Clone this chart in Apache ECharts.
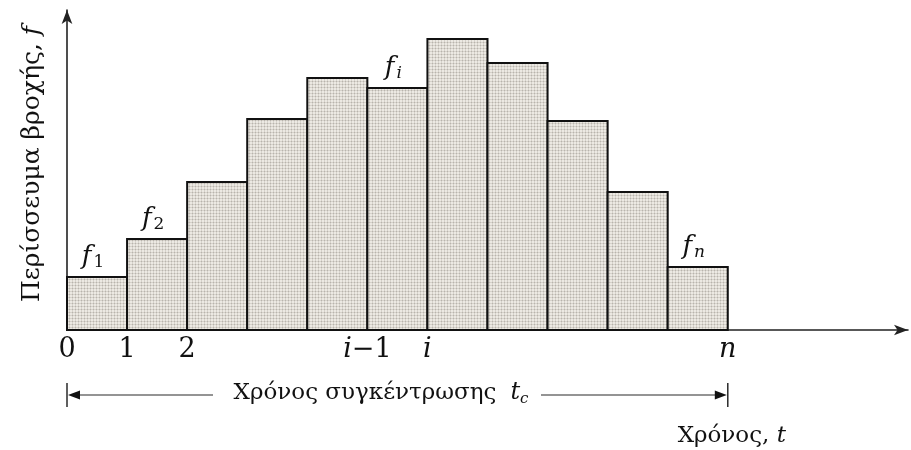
<!DOCTYPE html>
<html>
<head>
<meta charset="utf-8">
<script src="https://cdn.jsdelivr.net/npm/echarts@6/dist/echarts.min.js"></script>
<style>
  html, body { margin: 0; padding: 0; background: #fff; }
  #chart { width: 911px; height: 450px; }
</style>
</head>
<body>
<div id="chart"></div>
<script>
// Rainfall excess per time step (hyetograph of n equal intervals)
const excess = [53, 91, 148, 211, 252, 242, 291, 267, 209, 138, 63];
// Symbolic labels drawn over selected bars: [bar index, subscript]
const barLabelIndex = [0, 1, 5, 10];
const barLabelSub = ['1', '2', 'i', 'n'];
// Tick labels on the time axis
const tickValues = [0, 1, 2, 5, 6, 11];
const tickTexts = ['0', '1', '2', 'i−1', 'i', 'n'];

const SERIF = '"DejaVu Serif", "Liberation Serif", serif';

// Stippled fill used for the bars
function makeStipple() {
  const c = document.createElement('canvas');
  c.width = 3; c.height = 3;
  const g = c.getContext('2d');
  g.fillStyle = '#ece9e3'; g.fillRect(0, 0, 3, 3);
  g.fillStyle = '#d6d2cb'; g.fillRect(0, 0, 3, 1); g.fillRect(0, 0, 1, 3);
  g.fillStyle = '#b8b4ad'; g.fillRect(0, 0, 1, 1);
  return c;
}
const stipple = { image: makeStipple(), repeat: 'repeat' };

const data = excess.map((v, i) => [i, i + 1, v]);

function labelRich(sub) {
  const italicSub = /[a-z]/.test(sub);
  return {
    text: '{f|f}{s|' + sub + '}',
    rich: {
      f: { fontFamily: SERIF, fontStyle: 'italic', fontSize: 26, fill: '#111' },
      s: { fontFamily: SERIF, fontStyle: italicSub ? 'italic' : 'normal', fontSize: 17, fill: '#111', verticalAlign: 'bottom', padding: [11, 0, 0, 2] }
    }
  };
}

const chart = echarts.init(document.getElementById('chart'), null, { renderer: 'canvas' });

chart.setOption({
  animation: false,
  backgroundColor: '#fff',
  grid: { left: 67, right: 2, top: 10, bottom: 120, containLabel: false },
  xAxis: {
    type: 'value', min: 0, max: 14, interval: 1,
    axisLine: { show: true, onZero: false, lineStyle: { color: '#222', width: 1.6 }, symbol: ['none', 'arrow'], symbolSize: [8, 14] },
    axisTick: { show: false },
    splitLine: { show: false },
    axisLabel: {
      margin: 6,
      showMinLabel: true,
      formatter: function (v) {
        const k = tickValues.indexOf(v);
        if (k < 0) return '';
        const t = tickTexts[k];
        if (t === 'i−1') return '{it|i}{n|−1}';
        if (t === 'i' || t === 'n') return '{it|' + t + '}';
        return '{n|' + t + '}';
      },
      rich: {
        n: { fontFamily: SERIF, fontSize: 27, color: '#111' },
        it: { fontFamily: SERIF, fontSize: 27, fontStyle: 'italic', color: '#111' }
      }
    }
  },
  yAxis: {
    type: 'value', min: 0, max: 320,
    axisLine: { show: true, lineStyle: { color: '#222', width: 1.6 }, symbol: ['none', 'arrow'], symbolSize: [8, 14] },
    axisTick: { show: false },
    axisLabel: { show: false },
    splitLine: { show: false },
    name: 'Περίσσευμα βροχής, {i|f}',
    nameLocation: 'middle',
    nameGap: 22,
    nameRotate: 90,
    nameTextStyle: {
      fontFamily: SERIF, fontSize: 25, color: '#111', padding: [0, 0, 0, 12],
      rich: { i: { fontFamily: SERIF, fontSize: 25, fontStyle: 'italic', color: '#111' } }
    }
  },
  series: [{
    type: 'custom',
    data: data,
    encode: { x: [0, 1], y: 2 },
    renderItem: function (params, api) {
      const base = api.coord([api.value(0), 0]);
      const top = api.coord([api.value(1), api.value(2)]);
      const children = [{
        type: 'rect',
        shape: { x: base[0], y: top[1], width: top[0] - base[0], height: base[1] - top[1] },
        style: { fill: stipple, stroke: '#111', lineWidth: 2 }
      }];
      const li = barLabelIndex.indexOf(params.dataIndex);
      if (li >= 0) {
        const r = labelRich(barLabelSub[li]);
        children.push({
          type: 'text',
          x: (base[0] + top[0]) / 2 - 4,
          y: top[1] - 6,
          style: Object.assign({ align: 'center', verticalAlign: 'bottom' }, r)
        });
      }
      return { type: 'group', children: children };
    }
  }]
});

// Concentration-time dimension line under the axis, anchored to t = 0 and t = n
const xs = chart.convertToPixel({ xAxisIndex: 0 }, 0);
const xe = chart.convertToPixel({ xAxisIndex: 0 }, excess.length);
const yDim = 395;
const lineCol = '#2a2a2a';
chart.setOption({
  graphic: [
    { type: 'line', shape: { x1: xs, y1: yDim - 12, x2: xs, y2: yDim + 12 }, style: { stroke: lineCol, lineWidth: 1.5 } },
    { type: 'line', shape: { x1: xe, y1: yDim - 12, x2: xe, y2: yDim + 12 }, style: { stroke: lineCol, lineWidth: 1.5 } },
    { type: 'line', shape: { x1: xs + 10, y1: yDim, x2: 213, y2: yDim }, style: { stroke: lineCol, lineWidth: 1.2 } },
    { type: 'line', shape: { x1: 541, y1: yDim, x2: xe - 10, y2: yDim }, style: { stroke: lineCol, lineWidth: 1.2 } },
    { type: 'polygon', shape: { points: [[xs + 1, yDim], [xs + 13, yDim - 4.5], [xs + 13, yDim + 4.5]] }, style: { fill: '#111' } },
    { type: 'polygon', shape: { points: [[xe - 1, yDim], [xe - 13, yDim - 4.5], [xe - 13, yDim + 4.5]] }, style: { fill: '#111' } },
    {
      type: 'text', x: 381, y: yDim - 2,
      style: {
        text: '{n|Χρόνος συγκέντρωσης}{it|t}{s|c}',
        align: 'center', verticalAlign: 'middle',
        rich: {
          n: { fontFamily: SERIF, fontSize: 23, fill: '#111', padding: [0, 14, 0, 0] },
          it: { fontFamily: SERIF, fontSize: 24, fontStyle: 'italic', fill: '#111' },
          s: { fontFamily: SERIF, fontSize: 15, fontStyle: 'italic', fill: '#111', padding: [12, 0, 0, 0] }
        }
      }
    },
    {
      type: 'text', x: xe + 4, y: 436,
      style: {
        text: '{n|Χρόνος, }{it|t}',
        align: 'center', verticalAlign: 'middle',
        rich: {
          n: { fontFamily: SERIF, fontSize: 23, fill: '#111' },
          it: { fontFamily: SERIF, fontSize: 23, fontStyle: 'italic', fill: '#111' }
        }
      }
    }
  ]
});
</script>
</body>
</html>
